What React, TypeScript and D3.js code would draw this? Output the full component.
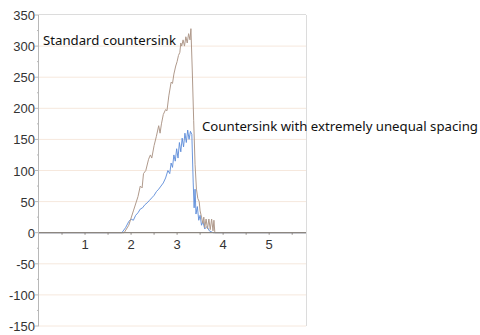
import React from "react";
import * as d3 from "d3";

const xTicks = [1, 2, 3, 4, 5];
const yTicks = [350, 300, 250, 200, 150, 100, 50, 0, -50, -100, -150];

const standardX = [0, 1.85, 1.95, 2.05, 2.15, 2.2, 2.24, 2.27, 2.32, 2.38, 2.42, 2.45, 2.5, 2.55, 2.6, 2.63, 2.66, 2.7, 2.75, 2.78, 2.82, 2.87, 2.9, 2.93, 2.97, 3.0, 3.03, 3.06, 3.08, 3.1, 3.13, 3.16, 3.19, 3.22, 3.25, 3.28, 3.3, 3.33, 3.36, 3.39, 3.42, 3.45, 3.48, 3.5, 3.53, 3.56, 3.58, 3.6, 3.63, 3.66, 3.69, 3.72, 3.75, 3.78, 3.8, 3.82, 5.8];
const standardY = [0, 0, 12, 35, 58, 75, 72, 95, 100, 118, 125, 120, 140, 155, 172, 160, 175, 190, 198, 196, 220, 242, 240, 255, 268, 275, 285, 290, 305, 300, 310, 300, 315, 305, 320, 310, 328, 260, 180, 110, 70, 55, 50, 35, 25, 15, 25, 8, 22, 6, 22, 5, 22, 3, 20, 0, 0];

const unequalX = [0, 1.8, 1.88, 1.95, 2.0, 2.05, 2.1, 2.15, 2.2, 2.25, 2.3, 2.35, 2.4, 2.45, 2.5, 2.55, 2.6, 2.65, 2.7, 2.75, 2.8, 2.84, 2.87, 2.9, 2.93, 2.96, 2.99, 3.02, 3.05, 3.08, 3.11, 3.14, 3.17, 3.2, 3.23, 3.26, 3.29, 3.32, 3.35, 3.37, 3.39, 3.41, 3.44, 3.47, 3.5, 3.53, 3.56, 3.6, 3.65, 3.7, 3.78, 5.8];
const unequalY = [0, 0, 8, 18, 22, 20, 28, 32, 38, 40, 45, 48, 52, 56, 60, 66, 70, 75, 80, 88, 100, 95, 112, 105, 125, 115, 135, 120, 145, 130, 152, 138, 160, 145, 165, 150, 163, 158, 80, 40, 70, 30, 42, 20, 28, 12, 18, 6, 10, 3, 0, 0];

const labels = ["Standard countersink", "Countersink with extremely unequal spacing"];

export default function App() {
  const W = 480, H = 335;
  const x = d3.scaleLinear().domain([0, 5.8]).range([39, 306]);
  const y = d3.scaleLinear().domain([-150, 350]).range([326, 15]);
  const line = d3.line<[number, number]>().x(d => x(d[0])).y(d => y(d[1]));
  const std = standardX.map((v, i) => [v, standardY[i]] as [number, number]);
  const uneq = unequalX.map((v, i) => [v, unequalY[i]] as [number, number]);
  const minorY = d3.range(-150, 351, 25);
  const minorX = d3.range(0.5, 5.8, 0.5);
  return (
    <svg width={W} height={H} style={{ position: "absolute", left: 0, top: 0 }}>
      <rect width={W} height={H} fill="#fff" />
      {yTicks.filter(t => t !== 0 && t !== 350).map(t => (
        <line key={t} x1={x(0)} x2={x(5.8)} y1={y(t)} y2={y(t)} stroke="#f6e8dd" strokeWidth={1} />
      ))}
      <line x1={x(0)} x2={x(5.8)} y1={y(350) - 0.5} y2={y(350) - 0.5} stroke="#dcdcdc" strokeWidth={1} />
      <line x1={x(5.8) + 0.5} x2={x(5.8) + 0.5} y1={y(350)} y2={y(-150)} stroke="#dcdcdc" strokeWidth={1} />
      <line x1={x(0) - 0.5} x2={x(0) - 0.5} y1={y(350)} y2={y(-150)} stroke="#b8b8b8" strokeWidth={1} />
      {minorY.map(t => (
        <line key={t} x1={x(0) - (t % 50 === 0 ? 4 : 2)} x2={x(0)} y1={y(t)} y2={y(t)} stroke="#b8b8b8" strokeWidth={1} />
      ))}
      <path d={line(uneq) || ""} fill="none" stroke="#5a8ad8" strokeWidth={0.9} strokeLinejoin="round" />
      <path d={line(std) || ""} fill="none" stroke="#b09a8c" strokeWidth={1} strokeLinejoin="round" />
      <line x1={x(0)} x2={x(5.8)} y1={y(0)} y2={y(0)} stroke="#8c8680" strokeWidth={1.3} />
      {minorX.map(t => (
        <line key={t} x1={x(t)} x2={x(t)} y1={y(0)} y2={y(0) + 2} stroke="#8c8680" strokeWidth={1} />
      ))}
      {yTicks.map(t => (
        <text key={t} x={35} y={y(t) + 5} textAnchor="end" fontFamily="Liberation Sans, Arial, sans-serif" fontSize={13} fill="#333">{t}</text>
      ))}
      {xTicks.map(t => (
        <text key={t} x={x(t)} y={y(0) + 16} textAnchor="middle" fontFamily="Liberation Sans, Arial, sans-serif" fontSize={13} fill="#333">{t}</text>
      ))}
      <text x={43} y={45} fontFamily="Noto Sans, sans-serif" fontSize={12.5} fill="#111" textLength={133} lengthAdjust="spacingAndGlyphs">{labels[0]}</text>
      <text x={202} y={131} fontFamily="Noto Sans, sans-serif" fontSize={12.5} fill="#111" textLength={276} lengthAdjust="spacingAndGlyphs">{labels[1]}</text>
    </svg>
  );
}
